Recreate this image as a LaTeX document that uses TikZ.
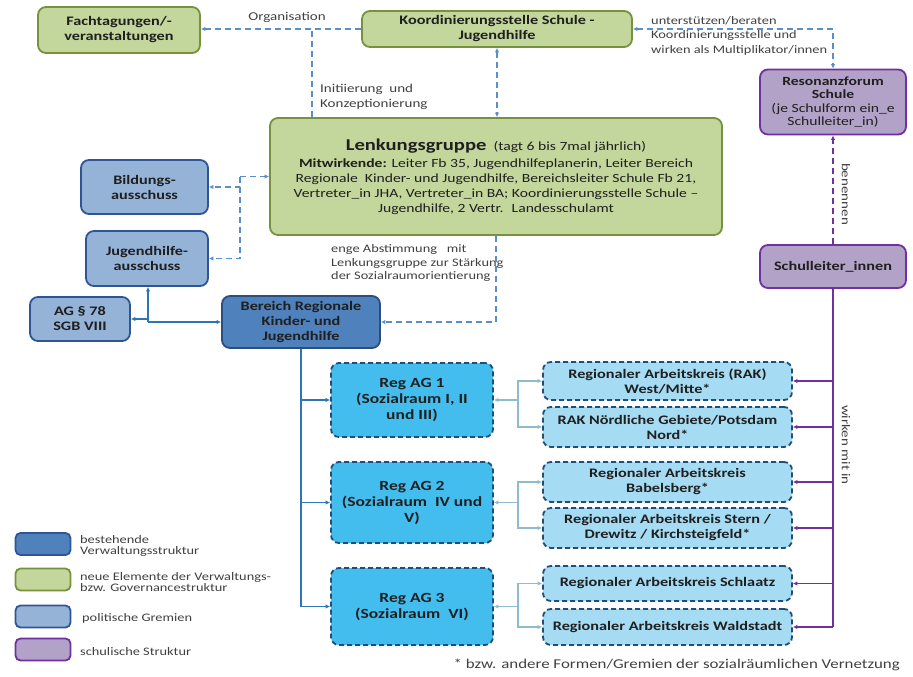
\documentclass[tikz,border=0pt]{standalone}
\usepackage{fontspec}
\setmainfont{Carlito}[FakeStretch=1.25]
\usetikzlibrary{arrows.meta}
\definecolor{gfill}{HTML}{C3D69B}
\definecolor{gdraw}{HTML}{76923C}
\definecolor{pfill}{HTML}{B3A2C7}
\definecolor{pdraw}{HTML}{7030A0}
\definecolor{bfill}{HTML}{95B3D7}
\definecolor{bdraw}{HTML}{2F5597}
\definecolor{dfill}{HTML}{4F81BD}
\definecolor{ddraw}{HTML}{2A4F7F}
\definecolor{rfill}{HTML}{43BDEE}
\definecolor{kfill}{HTML}{A5DBF3}
\definecolor{kdraw}{HTML}{1F4E79}
\definecolor{cdash}{HTML}{5B8DC9}
\definecolor{csolid}{HTML}{2E75B6}
\definecolor{cteal}{HTML}{8EBCCC}
\definecolor{ctext}{HTML}{1F1F1F}
\definecolor{clbl}{HTML}{404040}
\begin{document}
\begin{tikzpicture}[x=1pt,y=-1pt,
  box/.style={rounded corners=8pt, line width=1.8pt, align=center, inner sep=2pt, text=ctext,
    font={\fontsize{13}{15}\selectfont\bfseries}},
  greenbox/.style={box, fill=gfill, draw=gdraw},
  purplebox/.style={box, fill=pfill, draw=pdraw},
  polbox/.style={box, fill=bfill, draw=bdraw},
  darkbox/.style={box, fill=dfill, draw=ddraw},
  regbox/.style={box, fill=rfill, draw=kdraw, dash pattern=on 5pt off 3pt, font={\fontsize{14}{16}\selectfont\bfseries}},
  rakbox/.style={box, fill=kfill, draw=kdraw, dash pattern=on 5pt off 3pt, font={\fontsize{13}{15}\selectfont\bfseries}},
  legbox/.style={rounded corners=5pt, line width=1.8pt, minimum width=55pt, minimum height=22pt},
  lbl/.style={text=clbl, inner sep=0pt, font={\fontsize{12}{14.5}\selectfont}},
  legtext/.style={text=clbl, inner sep=0pt, align=left, anchor=west, font={\fontsize{11.5}{11}\selectfont}},
  tip/.style={-{Latex[length=4.5pt,width=4.5pt]}},
  bothtip/.style={{Latex[length=4.5pt,width=4.5pt]}-{Latex[length=4.5pt,width=4.5pt]}},
  dashconn/.style={draw=cdash, line width=1.5pt, dash pattern=on 6pt off 4pt},
  solidconn/.style={draw=csolid, line width=1.5pt},
  tealconn/.style={draw=cteal, line width=1.5pt},
  purpconn/.style={draw=pdraw, line width=1.5pt},
]
\useasboundingbox (0,0) rectangle (913,677);

% ---- nodes
\node[greenbox, minimum width=162pt, minimum height=46pt] (fach) at (119,30) {Fachtagungen/-\\veranstaltungen};
\node[greenbox, minimum width=270pt, minimum height=36pt] (koord) at (497,29) {Koordinierungsstelle Schule -\\Jugendhilfe};
\node[purplebox, minimum width=146pt, minimum height=65pt, font={\fontsize{12.5}{13.6}\selectfont}] (reson) at (833,102)
  {\textbf{Resonanzforum}\\\textbf{Schule}\\(je Schulform ein\_e\\Schulleiter\_in)};
\node[greenbox, minimum width=452pt, minimum height=117pt, font={\fontsize{12.5}{15}\selectfont}] (lenk) at (496,176.5)
  {{\fontsize{16.5}{19}\selectfont\bfseries Lenkungsgruppe}~~{\fontsize{12.5}{14}\selectfont(tagt 6 bis 7mal jährlich)}\\[2pt]
   \textbf{Mitwirkende:} Leiter Fb 35, Jugendhilfeplanerin, Leiter Bereich\\
   Regionale~ Kinder- und Jugendhilfe, Bereichsleiter Schule Fb 21,\\
   Vertreter\_in JHA, Vertreter\_in BA; Koordinierungsstelle Schule --\\
   Jugendhilfe, 2 Vertr.~ Landesschulamt};
\node[polbox, minimum width=127pt, minimum height=54pt] (bild) at (144.5,187) {Bildungs-\\ausschuss};
\node[polbox, minimum width=122pt, minimum height=55pt] (jugend) at (147,258.5) {Jugendhilfe-\\ausschuss};
\node[polbox, minimum width=100pt, minimum height=44pt] (ag78) at (80,319) {AG § 78\\SGB VIII};
\node[darkbox, minimum width=158pt, minimum height=52pt] (bereich) at (301,322) {Bereich Regionale\\Kinder- und\\Jugendhilfe};
\node[purplebox, minimum width=146pt, minimum height=43pt] (schul) at (833,266.5) {Schulleiter\_innen};

\node[regbox, minimum width=162pt, minimum height=74pt] (reg1) at (412,400) {Reg AG 1\\(Sozialraum I, II\\und III)};
\node[regbox, minimum width=162pt, minimum height=81pt] (reg2) at (412,502.5) {Reg AG 2\\(Sozialraum~ IV und\\V)};
\node[regbox, minimum width=162pt, minimum height=77pt] (reg3) at (412,606.5) {Reg AG 3\\(Sozialraum~ VI)};

\node[rakbox, minimum width=249pt, minimum height=38pt] (rak1) at (667.5,381) {Regionaler Arbeitskreis (RAK)\\West/Mitte*};
\node[rakbox, minimum width=249pt, minimum height=40pt] (rak2) at (667.5,427) {RAK Nördliche Gebiete/Potsdam\\Nord*};
\node[rakbox, minimum width=249pt, minimum height=40pt] (rak3) at (667.5,482) {Regionaler Arbeitskreis\\Babelsberg*};
\node[rakbox, minimum width=249pt, minimum height=40pt] (rak4) at (667.5,528) {Regionaler Arbeitskreis Stern /\\Drewitz / Kirchsteigfeld*};
\node[rakbox, minimum width=249pt, minimum height=35pt] (rak5) at (667.5,583.5) {Regionaler Arbeitskreis Schlaatz};
\node[rakbox, minimum width=249pt, minimum height=36pt] (rak6) at (667.5,627) {Regionaler Arbeitskreis Waldstadt};

% ---- labels
\node[lbl] (lorg) at (287,17) {Organisation};
\node[lbl, anchor=west, align=left] (linit) at (320,97) {Initiierung~ und\\Konzeptionierung};
\node[lbl, anchor=west, align=left, font={\fontsize{11.5}{14.5}\selectfont}] (lunter) at (651,35.5) {unterstützen/beraten\\Koordinierungsstelle und\\wirken als Multiplikator/innen};
\node[lbl, rotate=-90] (lben) at (846,194) {benennen};
\node[lbl, rotate=-90] (lwirk) at (846,445) {wirken mit in};
\node[lbl, anchor=west, align=left, font={\fontsize{11.5}{13.5}\selectfont}] (lenge) at (331,263) {enge Abstimmung~~ mit\\Lenkungsgruppe zur Stärkung\\der Sozialraumorientierung};
\node[lbl, anchor=east, font={\fontsize{13.5}{15}\selectfont}] (fn) at (900,665) {* bzw. andere Formen/Gremien der sozialräumlichen Vernetzung};

% ---- legend
\node[legbox, fill=dfill, draw=bdraw] (lg1) at (43,544) {};
\node[legbox, fill=gfill, draw=gdraw] (lg2) at (43,579.5) {};
\node[legbox, fill=bfill, draw=bdraw] (lg3) at (43,616.5) {};
\node[legbox, fill=pfill, draw=pdraw] (lg4) at (43,649.5) {};
\node[legtext] (lt1) at (80,546) {bestehende\\Verwaltungsstruktur};
\node[legtext] (lt2) at (80,582) {neue Elemente der Verwaltungs-\\bzw. Governancestruktur};
\node[legtext] (lt3) at (82,618) {politische Gremien};
\node[legtext] (lt4) at (80,652) {schulische Struktur};

% ---- connectors
\coordinate (org) at (312,29);
\draw[dashconn, tip] (koord.west) -- (koord.west -| fach.east);
\draw[dashconn] (lenk.north -| org) -- (org);
\draw[dashconn, bothtip] (koord.south) -- (koord.south |- lenk.north);
\draw[dashconn, bothtip] (koord.east) -| (reson.north);
\draw[purpconn, dash pattern=on 6pt off 4pt, tip] (schul.north) -- (reson.south);

\coordinate (lj) at (240,176.5);
\draw[dashconn, tip] (lj) -- (lenk.west);
\draw[dashconn, tip] (lj) |- (bild.east);
\draw[dashconn, tip] (lj) |- (jugend.east);
\draw[dashconn, tip] (lenk.south) |- (bereich.east);

\coordinate (bj) at (148,322);
\draw[solidconn, tip] (bj) -- (bereich.west);
\draw[solidconn, tip] (bj) -- (bj |- jugend.south);
\draw[solidconn, tip] (bj) |- (ag78.east);

\draw[solidconn, tip] (bereich.south) |- (reg1.west);
\draw[solidconn, tip] (bereich.south) |- (reg2.west);
\draw[solidconn, tip] (bereich.south) |- (reg3.west);

\coordinate (t1) at (518,400);
\coordinate (t2) at (518,502.5);
\coordinate (t3) at (518,606.5);
\draw[tealconn, tip] (t1) -- (reg1.east);
\draw[tealconn, tip] (t1) |- (rak1.west);
\draw[tealconn, tip] (t1) |- (rak2.west);
\draw[tealconn, tip] (t2) -- (reg2.east);
\draw[tealconn, tip] (t2) |- (rak3.west);
\draw[tealconn, tip] (t2) |- (rak4.west);
\draw[tealconn, tip] (t3) -- (reg3.east);
\draw[tealconn, tip] (t3) |- (rak5.west);
\draw[tealconn, tip] (t3) |- (rak6.west);

\draw[purpconn] (schul.south) -- (schul.south |- rak6.east);
\foreach \r in {rak1,rak2,rak3,rak4,rak5,rak6}
  \draw[purpconn, tip] (schul.south |- \r.east) -- (\r.east);
\end{tikzpicture}
\end{document}
